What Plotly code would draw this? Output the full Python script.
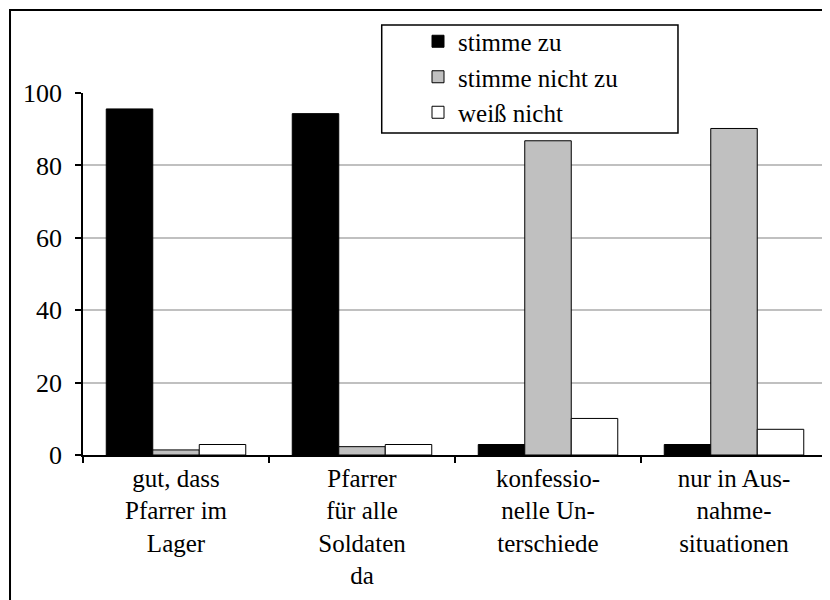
import plotly.graph_objects as go

categories = [
    "gut, dass<br>Pfarrer im<br>Lager",
    "Pfarrer<br>für alle<br>Soldaten<br>da",
    "konfessio-<br>nelle Un-<br>terschiede",
    "nur in Aus-<br>nahme-<br>situationen",
]
series_names = ["stimme zu", "stimme nicht zu", "weiß nicht"]
stimme_zu = [95.6, 94.3, 2.9, 2.9]
stimme_nicht_zu = [1.4, 2.3, 86.8, 90.2]
weiss_nicht = [2.9, 2.9, 10.1, 7.1]
y_ticks = [0, 20, 40, 60, 80, 100]

colors = ["#000000", "#c0c0c0", "#ffffff"]
FONT = "Liberation Serif, Times New Roman, DejaVu Serif, serif"

fig = go.Figure()
for name, vals, col in zip(series_names, [stimme_zu, stimme_nicht_zu, weiss_nicht], colors):
    fig.add_trace(go.Bar(
        x=categories, y=vals, name=name, legendgroup=name,
        marker=dict(color=col, line=dict(color="#000000", width=1)),
    ))

fig.update_layout(
    width=830, height=600,
    margin=dict(l=75, r=11, t=85, b=153),
    paper_bgcolor="white", plot_bgcolor="white",
    barmode="group", bargap=0.25, bargroupgap=0,
    font=dict(family=FONT, size=25, color="black"),
    showlegend=True,
    legend=dict(
        x=(410 - 75) / 744, y=(447 - 10.5) / 362, xanchor="left", yanchor="top",
        bgcolor="rgba(0,0,0,0)", borderwidth=0,
        font=dict(family=FONT, size=25, color="black"),
        traceorder="grouped", tracegroupgap=0,
    ),
    shapes=[
        dict(type="rect", xref="paper", yref="paper",
             x0=-0.0981, x1=1.012, y0=-0.417, y1=1.229,
             line=dict(color="black", width=2), fillcolor="rgba(0,0,0,0)", layer="below"),
        dict(type="rect", xref="paper", yref="paper",
             x0=0.4015, x1=0.7997, y0=0.8895, y1=1.1878,
             line=dict(color="black", width=1.5), fillcolor="white", layer="above"),
    ],
)

fig.update_xaxes(
    showline=True, linecolor="black", linewidth=1.5,
    ticks="outside", ticklen=6, tickcolor="black", tickwidth=1.5,
    tickson="boundaries", showgrid=False,
    tickfont=dict(family=FONT, size=25, color="black"),
)
fig.update_yaxes(
    range=[0, 100], tickvals=y_ticks,
    showline=True, linecolor="black", linewidth=1.5,
    ticks="outside", ticklen=6, tickcolor="black", tickwidth=1.5,
    showgrid=True, gridcolor="#c0c0c0", gridwidth=1.5,
    zeroline=False, ticklabelstandoff=8,
    tickfont=dict(family=FONT, size=26, color="black"),
)

fig.write_html("out.html")
